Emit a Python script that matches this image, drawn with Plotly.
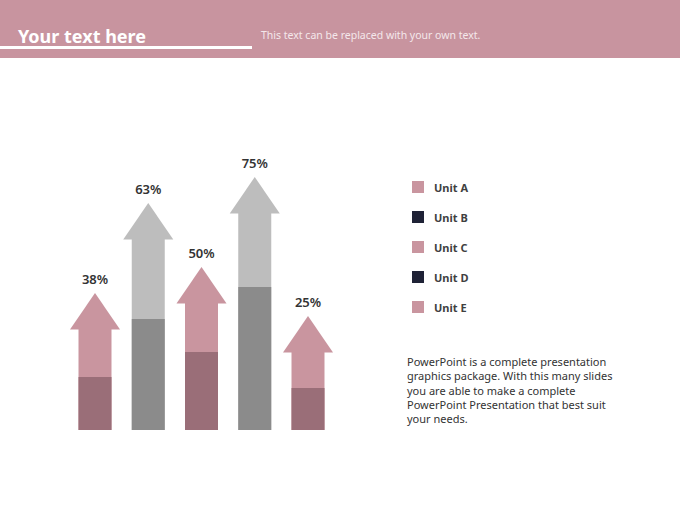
import plotly.graph_objects as go

# data
percent_labels = ["38%", "63%", "50%", "75%", "25%"]
shaft_top = [101, 191, 127, 217, 78]     # height of the arrow shaft
base_part = [53, 111, 78, 143, 42]       # darker lower segment
head_height = [36, 36, 36, 36, 36]
arrow_tone = ["pink", "gray", "pink", "gray", "pink"]
legend_units = ["Unit A", "Unit B", "Unit C", "Unit D", "Unit E"]
legend_tone = ["pink", "navy", "pink", "navy", "pink"]

W, H = 680, 510
light = {"pink": "#C9959F", "gray": "#BDBDBD"}
dark = {"pink": "#9A6E78", "gray": "#8B8B8B"}
navy = "#1F2236"
header = "#C8949F"

xs = list(range(len(percent_labels)))
step = 53.25          # pixels between arrow centres
x0_px = 95            # pixel position of the first arrow
bar_w = 33 / step
head_hw = 25 / step
label_gap = 6

fig = go.Figure()

# shafts: light full height, dark part on top of it
fig.add_trace(go.Bar(x=xs, y=shaft_top, width=bar_w,
                     marker=dict(color=[light[t] for t in arrow_tone], line_width=0),
                     hoverinfo="skip"))
fig.add_trace(go.Bar(x=xs, y=base_part, width=bar_w,
                     marker=dict(color=[dark[t] for t in arrow_tone], line_width=0),
                     hoverinfo="skip"))

# arrow heads
for i, x in enumerate(xs):
    top = shaft_top[i]
    fig.add_trace(go.Scatter(
        x=[x - head_hw, x, x + head_hw, x - head_hw],
        y=[top - 0.5, top + head_height[i], top - 0.5, top - 0.5],
        mode="lines", fill="toself", fillcolor=light[arrow_tone[i]],
        line=dict(width=0, color=light[arrow_tone[i]]), hoverinfo="skip"))

# percentage labels above the tips
fig.add_trace(go.Scatter(
    x=xs, y=[t + h + label_gap for t, h in zip(shaft_top, head_height)],
    mode="text", text=percent_labels, textposition="top center",
    textfont=dict(family="Noto Sans", size=13, color="#333333", weight=600),
    hoverinfo="skip"))

shapes = []
annotations = []

# header band
shapes.append(dict(type="rect", xref="paper", yref="paper", x0=0, x1=1,
                   y0=1 - 58 / H, y1=1, fillcolor=header, line_width=0, layer="below"))
shapes.append(dict(type="line", xref="paper", yref="paper", x0=0, x1=252 / W,
                   y0=1 - 47.5 / H, y1=1 - 47.5 / H, line=dict(color="white", width=3)))
annotations.append(dict(text="<b>Your text here</b>", xref="paper", yref="paper",
                        x=16 / W, y=1 - 36 / H, xanchor="left", yanchor="middle",
                        showarrow=False,
                        font=dict(family="Noto Sans", size=18, color="white")))
annotations.append(dict(text="This text can be replaced with your own text.",
                        xref="paper", yref="paper", x=259 / W, y=1 - 35 / H,
                        xanchor="left", yanchor="middle", showarrow=False,
                        font=dict(family="Noto Sans", size=10.5, color="#F4E8EB")))

# legend squares and labels
for i, (name, tone) in enumerate(zip(legend_units, legend_tone)):
    cy = 187 + 30 * i
    col = navy if tone == "navy" else light["pink"]
    shapes.append(dict(type="rect", xref="paper", yref="paper",
                       x0=412 / W, x1=424 / W, y0=1 - (cy + 6) / H, y1=1 - (cy - 6) / H,
                       fillcolor=col, line_width=0))
    annotations.append(dict(text="<b>" + name + "</b>", xref="paper", yref="paper",
                            x=432 / W, y=1 - cy / H, xanchor="left", yanchor="middle",
                            showarrow=False,
                            font=dict(family="Noto Sans", size=11, color="#404040")))

# paragraph
para = ("PowerPoint is a complete presentation<br>graphics package. With this many slides"
        "<br>you are able to make a complete<br>PowerPoint Presentation that best suit"
        "<br>your needs.")
annotations.append(dict(text=para, xref="paper", yref="paper", x=405 / W, y=1 - 352 / H,
                        xanchor="left", yanchor="top", align="left", showarrow=False,
                        font=dict(family="Noto Sans", size=11, color="#333333")))

fig.update_layout(
    width=W, height=H,
    margin=dict(l=0, r=0, t=0, b=0),
    paper_bgcolor="white", plot_bgcolor="white",
    barmode="overlay", showlegend=False,
    shapes=shapes, annotations=annotations,
    xaxis=dict(range=[-x0_px / step, (W - x0_px) / step], visible=False, fixedrange=True),
    yaxis=dict(range=[-(H - 430), 430], visible=False, fixedrange=True),
)

# the page body has a default 8px margin; drop it so the slide fills the window
fig.write_html("out.html", config={"displayModeBar": False},
               post_script="document.body.style.margin='0';")
